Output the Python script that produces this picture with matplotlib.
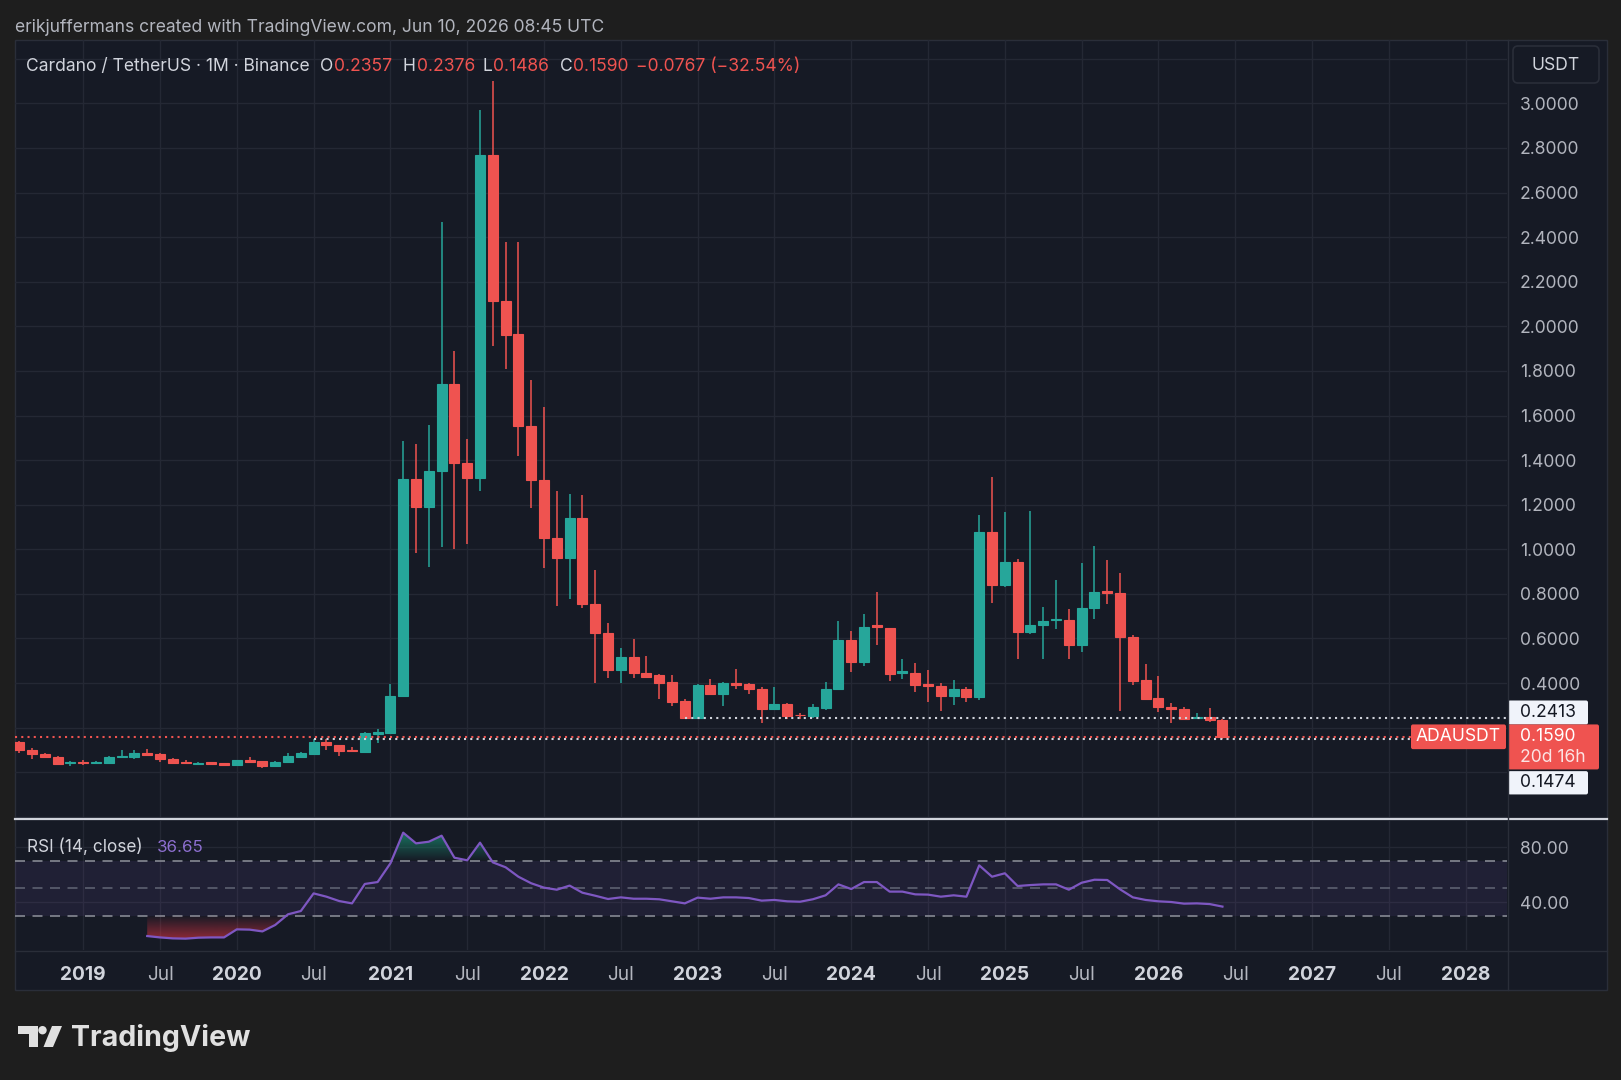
import numpy as np
import pandas as pd
import matplotlib
matplotlib.use("Agg")
import matplotlib.pyplot as plt
import matplotlib.colors as mcolors
from matplotlib.patches import Rectangle, FancyBboxPatch, Polygon, Circle, PathPatch
from matplotlib.path import Path
from matplotlib.ticker import MultipleLocator

# ---------------- data ----------------
months = pd.period_range("2018-08", "2026-06", freq="M")

open_ = [0.138, 0.100, 0.082, 0.069, 0.040,
         0.045, 0.040, 0.042, 0.069, 0.067, 0.088, 0.081, 0.060, 0.048, 0.039, 0.045, 0.040,
         0.032, 0.054, 0.049, 0.030, 0.045, 0.070, 0.082, 0.138, 0.121, 0.101, 0.090, 0.172,
         0.175, 0.342, 1.314, 1.188, 1.352, 1.740, 1.386, 1.318, 2.770, 2.115, 1.965, 1.553,
         1.311, 1.052, 0.960, 1.142, 0.753, 0.623, 0.459, 0.516, 0.447, 0.436, 0.405, 0.320,
         0.242, 0.391, 0.350, 0.399, 0.396, 0.375, 0.282, 0.306, 0.257, 0.252, 0.287, 0.372,
         0.593, 0.493, 0.659, 0.648, 0.447, 0.447, 0.395, 0.387, 0.344, 0.372, 0.339, 1.079,
         0.840, 0.942, 0.629, 0.662, 0.681, 0.683, 0.571, 0.737, 0.814, 0.805, 0.608, 0.414,
         0.332, 0.291, 0.283, 0.242, 0.247, 0.2357]
high = [0.140, 0.110, 0.086, 0.074, 0.051,
        0.055, 0.050, 0.071, 0.100, 0.100, 0.106, 0.085, 0.062, 0.055, 0.046, 0.047, 0.042,
        0.057, 0.070, 0.051, 0.050, 0.085, 0.091, 0.148, 0.148, 0.124, 0.112, 0.180, 0.194,
        0.396, 1.487, 1.471, 1.557, 2.469, 1.891, 1.494, 2.970, 3.100, 2.377, 2.379, 1.759,
        1.637, 1.263, 1.247, 1.242, 0.906, 0.668, 0.556, 0.596, 0.523, 0.440, 0.438, 0.327,
        0.396, 0.420, 0.406, 0.462, 0.399, 0.381, 0.381, 0.312, 0.264, 0.306, 0.406, 0.680,
        0.635, 0.709, 0.810, 0.648, 0.508, 0.489, 0.459, 0.399, 0.414, 0.384, 1.154, 1.326,
        1.167, 0.957, 1.173, 0.743, 0.862, 0.731, 0.937, 1.016, 0.952, 0.892, 0.616, 0.484,
        0.433, 0.311, 0.294, 0.267, 0.290, 0.2376]
low = [0.085, 0.060, 0.066, 0.031, 0.030,
       0.034, 0.037, 0.040, 0.063, 0.058, 0.076, 0.046, 0.040, 0.037, 0.036, 0.031, 0.030,
       0.030, 0.043, 0.018, 0.028, 0.043, 0.068, 0.080, 0.100, 0.073, 0.090, 0.088, 0.130,
       0.172, 0.340, 0.985, 0.922, 1.012, 1.000, 1.022, 1.263, 1.912, 1.807, 1.418, 1.184,
       0.918, 0.747, 0.776, 0.735, 0.402, 0.421, 0.402, 0.424, 0.424, 0.329, 0.297, 0.2413,
       0.242, 0.347, 0.299, 0.372, 0.350, 0.220, 0.280, 0.238, 0.238, 0.243, 0.280, 0.370,
       0.448, 0.477, 0.571, 0.410, 0.420, 0.359, 0.317, 0.276, 0.302, 0.317, 0.326, 0.761,
       0.830, 0.507, 0.620, 0.509, 0.644, 0.509, 0.538, 0.687, 0.755, 0.275, 0.390, 0.330,
       0.269, 0.220, 0.235, 0.238, 0.227, 0.1486]
close = [0.100, 0.082, 0.069, 0.038, 0.045,
         0.040, 0.045, 0.069, 0.073, 0.085, 0.079, 0.058, 0.043, 0.040, 0.043, 0.039, 0.032,
         0.054, 0.045, 0.030, 0.048, 0.073, 0.085, 0.138, 0.121, 0.097, 0.096, 0.175, 0.179,
         0.343, 1.314, 1.188, 1.352, 1.740, 1.386, 1.318, 2.767, 2.115, 1.961, 1.553, 1.311,
         1.050, 0.960, 1.142, 0.753, 0.623, 0.459, 0.516, 0.444, 0.429, 0.402, 0.317, 0.2413,
         0.391, 0.350, 0.399, 0.391, 0.372, 0.282, 0.305, 0.252, 0.255, 0.291, 0.372, 0.593,
         0.493, 0.653, 0.653, 0.440, 0.454, 0.390, 0.388, 0.344, 0.372, 0.339, 1.079, 0.840,
         0.942, 0.629, 0.662, 0.680, 0.687, 0.571, 0.737, 0.810, 0.805, 0.607, 0.411, 0.330,
         0.291, 0.284, 0.240, 0.249, 0.2357, 0.1590]

rsi_months = pd.period_range("2019-06", "2026-06", freq="M")
rsi_vals = [15.1, 14.1, 13.4, 13.2, 13.9, 14.1, 14.1,
            20.0, 19.8, 18.5, 23.2, 31.0, 33.4, 46.3, 43.9, 40.7, 39.0, 53.2, 54.6,
            68.3, 90.7, 82.9, 84.1, 88.5, 72.4, 70.5, 83.4, 69.0, 65.4, 58.5, 53.7,
            50.5, 49.0, 52.0, 46.8, 44.6, 42.2, 43.4, 42.4, 42.4, 42.0, 40.5, 39.0,
            43.2, 42.4, 43.4, 43.4, 42.9, 41.0, 41.5, 40.5, 40.2, 42.0, 44.9, 52.9,
            49.5, 54.6, 54.6, 47.6, 47.6, 45.6, 45.4, 43.9, 44.9, 43.9, 66.8, 58.5,
            61.0, 51.7, 52.4, 52.9, 52.9, 49.0, 54.1, 56.3, 56.1, 49.3, 43.4, 41.5,
            40.5, 40.0, 38.8, 39.0, 38.5, 36.65]

price_ticks = [0.4, 0.6, 0.8, 1.0, 1.2, 1.4, 1.6, 1.8, 2.0, 2.2, 2.4, 2.6, 2.8, 3.0]
rsi_ticks = [40, 80]
rsi_levels = [70, 50, 30]
time_tick_months = ["2019-01", "2019-07", "2020-01", "2020-07", "2021-01", "2021-07",
                    "2022-01", "2022-07", "2023-01", "2023-07", "2024-01", "2024-07",
                    "2025-01", "2025-07", "2026-01", "2026-07", "2027-01", "2027-07", "2028-01"]
time_tick_labels = ["2019", "Jul", "2020", "Jul", "2021", "Jul", "2022", "Jul", "2023", "Jul",
                    "2024", "Jul", "2025", "Jul", "2026", "Jul", "2027", "Jul", "2028"]

header = "erikjuffermans created with TradingView.com, Jun 10, 2026 08:45 UTC"
legend_parts = [("Cardano / TetherUS · 1M · Binance", "lab"), ("O", "lab"), ("0.2357", "val"),
                ("H", "lab"), ("0.2376", "val"), ("L", "lab"), ("0.1486", "val"),
                ("C", "lab"), ("0.1590", "val"), ("\u22120.0767 (\u221232.54%)", "val")]
legend_x = [26, 320, 334, 402, 417, 483, 493, 560, 573, 636]
hl_levels = [0.2413, 0.1474]
hl_start = ["2022-12", "2020-07"]
symbol = "ADAUSDT"
countdown = "20d 16h"
rsi_title = "RSI (14, close)"

# ---------------- style ----------------
W, H, DPI = 1621, 1080, 100
OUTER = "#1e1e1e"
PANEL = "#161a25"
GRID = "#242834"
BORDER = "#2a2e39"
TXT = "#b2b5be"
TXT2 = "#d1d4dc"
UP = "#26a69a"
DN = "#ef5350"
PURPLE = "#7e57c2"

plt.rcParams["font.family"] = ["Inter", "DejaVu Sans"]


def midx(p):
    p = pd.Period(p, freq="M")
    return (p.year - 2019) * 12 + p.month - 1


x = np.array([midx(p) for p in months], dtype=float)
o, h, l, c = map(np.asarray, (open_, high, low, close))
rx = np.array([midx(p) for p in rsi_months], dtype=float)
rv = np.asarray(rsi_vals)
tx = [midx(p) for p in time_tick_months]

XLIM = (-5.328, 111.23)

fig = plt.figure(figsize=(W / DPI, H / DPI), dpi=DPI, facecolor=OUTER)


def rect(x0, y0, x1, y1):
    return [x0 / W, 1 - y1 / H, (x1 - x0) / W, (y1 - y0) / H]


fig.add_artist(Rectangle((15 / W, 1 - 990 / H), (1607 - 15) / W, (990 - 40) / H,
                         transform=fig.transFigure, facecolor=PANEL, edgecolor=BORDER,
                         lw=1, zorder=-5))

# ---------------- price pane ----------------
ax = fig.add_axes(rect(15, 40, 1507, 818.5))
ax.set_facecolor("none")
for s in ax.spines.values():
    s.set_visible(False)
ax.set_xlim(*XLIM)
ax.set_ylim(-0.2072, 3.2839)
ax.set_xticks(tx)
ax.tick_params(axis="x", length=0, labelbottom=False)
ax.grid(axis="x", color=GRID, lw=1, zorder=0)
ax.yaxis.tick_right()
ax.set_yticks(price_ticks, labels=[f"{v:.4f}" for v in price_ticks])
ax.yaxis.set_minor_locator(MultipleLocator(0.2))
ax.grid(axis="y", which="both", color=GRID, lw=1)
ax.tick_params(axis="y", which="both", length=0, pad=9.4, labelsize=12.6, labelcolor=TXT)
ax.set_axisbelow(True)

cols = np.where(c >= o, UP, DN)
ax.vlines(x, l, h, colors=cols, lw=1.1, zorder=3)
ax.bar(x, np.maximum(np.abs(c - o), 0.001), bottom=np.minimum(o, c), width=0.78,
       color=cols, edgecolor=cols, lw=0.8, zorder=4)

# price lines
ax.axhline(c[-1], color=DN, lw=1.5, dashes=(1, 2), zorder=5)
for lev, st in zip(hl_levels, hl_start):
    ax.hlines(lev, midx(st), XLIM[1], color="#d1d4dc", lw=1.5, linestyles=(0, (1, 2)), zorder=5)

# ---------------- RSI pane ----------------
ax2 = fig.add_axes(rect(15, 821, 1507, 950))
ax2.set_facecolor("none")
for s in ax2.spines.values():
    s.set_visible(False)
ax2.set_xlim(*XLIM)
ax2.set_ylim(4.9, 99.25)
ax2.set_xticks(tx, labels=time_tick_labels)
ax2.tick_params(axis="x", length=0, pad=11.3, labelsize=13.8, labelcolor=TXT2)
for t in ax2.get_xticklabels():
    if t.get_text() == "Jul":
        t.set_fontweight("normal")
        t.set_color(TXT)
    else:
        t.set_fontweight("bold")
ax2.grid(axis="x", color=GRID, lw=1)
ax2.yaxis.tick_right()
ax2.set_yticks(rsi_ticks, labels=[f"{v:.2f}" for v in rsi_ticks])
ax2.grid(axis="y", color=GRID, lw=1)
ax2.tick_params(axis="y", length=0, pad=9.4, labelsize=12.6, labelcolor=TXT)
ax2.set_axisbelow(True)

ax2.axhspan(rsi_levels[2], rsi_levels[0], color=PURPLE, alpha=0.10, lw=0, zorder=1)
ax2.axhline(rsi_levels[0], color="#868993", lw=1.2, dashes=(6, 4.5), zorder=2)
ax2.axhline(rsi_levels[1], color="#5d6070", lw=1.2, dashes=(6, 4.5), zorder=2)
ax2.axhline(rsi_levels[2], color="#868993", lw=1.2, dashes=(6, 4.5), zorder=2)


def gradient_fill(axis, xs, ys, level, full, color, above):
    where = ys >= level if above else ys <= level
    coll = axis.fill_between(xs, ys, level, where=where, interpolate=True,
                             facecolor="none", edgecolor="none")
    paths = coll.get_paths()
    if not paths:
        return
    comp = Path.make_compound_path(*paths)
    patch = PathPatch(comp, transform=axis.transData, facecolor="none", edgecolor="none")
    axis.add_patch(patch)
    n = 256
    grad = np.zeros((n, 1, 4))
    grad[..., :3] = mcolors.to_rgb(color)
    a = np.linspace(0, 1, n)
    if above:
        grad[:, 0, 3] = a * 0.95
        ext = [xs.min(), xs.max(), level, full]
    else:
        grad[:, 0, 3] = (1 - a) * 0.95
        ext = [xs.min(), xs.max(), full, level]
    im = axis.imshow(grad, extent=ext, origin="lower", aspect="auto", zorder=2,
                     interpolation="bilinear")
    im.set_clip_path(patch)


gradient_fill(ax2, rx, rv, 70, 100, "#1aa37f", True)
gradient_fill(ax2, rx, rv, 30, 0, "#f23645", False)
ax2.plot(rx, rv, color=PURPLE, lw=1.6, zorder=3)
ax2.set_xlim(*XLIM)
ax2.set_ylim(4.9, 99.25)

# ---------------- overlay (pixel coords) ----------------
ov = fig.add_axes([0, 0, 1, 1])
ov.set_xlim(0, W)
ov.set_ylim(H, 0)
ov.axis("off")
ov.set_zorder(10)

# separators
ov.plot([15, 1607], [819.3, 819.3], color="#d1d4dc", lw=1.6)
ov.plot([15, 1607], [950.5, 950.5], color=BORDER, lw=1)
ov.plot([1507.5, 1507.5], [40, 990], color=BORDER, lw=1)

ov.text(15, 27, header, color=TXT, fontsize=12.6, va="center", ha="left")
for (s, kind), xp in zip(legend_parts, legend_x):
    ov.text(xp, 66.5, s, color=(TXT2 if kind == "lab" else DN), fontsize=12.6,
            va="center", ha="left")
ov.text(27, 847, rsi_title, color=TXT2, fontsize=12.4, va="center", ha="left")
ov.text(157, 847, f"{rv[-1]:.2f}", color="#8d6fd0", fontsize=12.2, va="center", ha="left")

# USDT box
ov.add_patch(FancyBboxPatch((1513, 46), 86, 37, boxstyle="round,pad=0,rounding_size=5",
                            facecolor=PANEL, edgecolor=BORDER, lw=1.2))
ov.text(1556, 65, "USDT", color=TXT2, fontsize=12.6, ha="center", va="center")


def ypix(p):
    return H - ax.transData.transform((0, p))[1]


y_hi = ypix(hl_levels[0])
y_cl = ypix(c[-1])
# high line label
ov.add_patch(FancyBboxPatch((1508, y_hi - 18), 80, 24, boxstyle="round,pad=0,rounding_size=2",
                            facecolor="#f0f3fa", edgecolor="none"))
ov.text(1520, y_hi - 6, f"{hl_levels[0]:.4f}", color="#131722", fontsize=12.6,
        va="center", ha="left")
# symbol + last price
ov.add_patch(FancyBboxPatch((1411, y_cl - 12.4), 95, 24.7, boxstyle="round,pad=0,rounding_size=2",
                            facecolor=DN, edgecolor="none"))
ov.text(1458, y_cl, symbol, color="white", fontsize=12.6, va="center", ha="center")
ov.add_patch(FancyBboxPatch((1508, y_cl - 12.4), 91, 45, boxstyle="round,pad=0,rounding_size=2",
                            facecolor=DN, edgecolor="none"))
ov.text(1520, y_cl, f"{c[-1]:.4f}", color="white", fontsize=12.6, va="center", ha="left")
ov.text(1520, y_cl + 20.5, countdown, color="#fbe3e3", fontsize=12.6, va="center", ha="left")
# low line label
ov.add_patch(FancyBboxPatch((1508, y_cl + 34.3), 80, 23.3, boxstyle="round,pad=0,rounding_size=2",
                            facecolor="#f0f3fa", edgecolor="none"))
ov.text(1520, y_cl + 46, f"{hl_levels[1]:.4f}", color="#131722", fontsize=12.6,
        va="center", ha="left")

# TradingView logo
LOGO = "#e0e0e0"
ov.add_patch(Polygon([(17.5, 1026), (37.5, 1026), (37.5, 1047), (28.5, 1047), (28.5, 1034),
                      (17.5, 1034)], closed=True, facecolor=LOGO, edgecolor="none"))
ov.add_patch(Circle((42.5, 1030.2), 4.2, facecolor=LOGO, edgecolor="none"))
ov.add_patch(Polygon([(52, 1026), (62, 1026), (53, 1047), (43.5, 1047)], closed=True,
                     facecolor=LOGO, edgecolor="none"))
ov.text(71, 1038, "TradingView", color=LOGO, fontsize=20.6, fontweight="bold",
        va="center", ha="left")

fig.savefig("out.png", dpi=DPI, facecolor=OUTER)
